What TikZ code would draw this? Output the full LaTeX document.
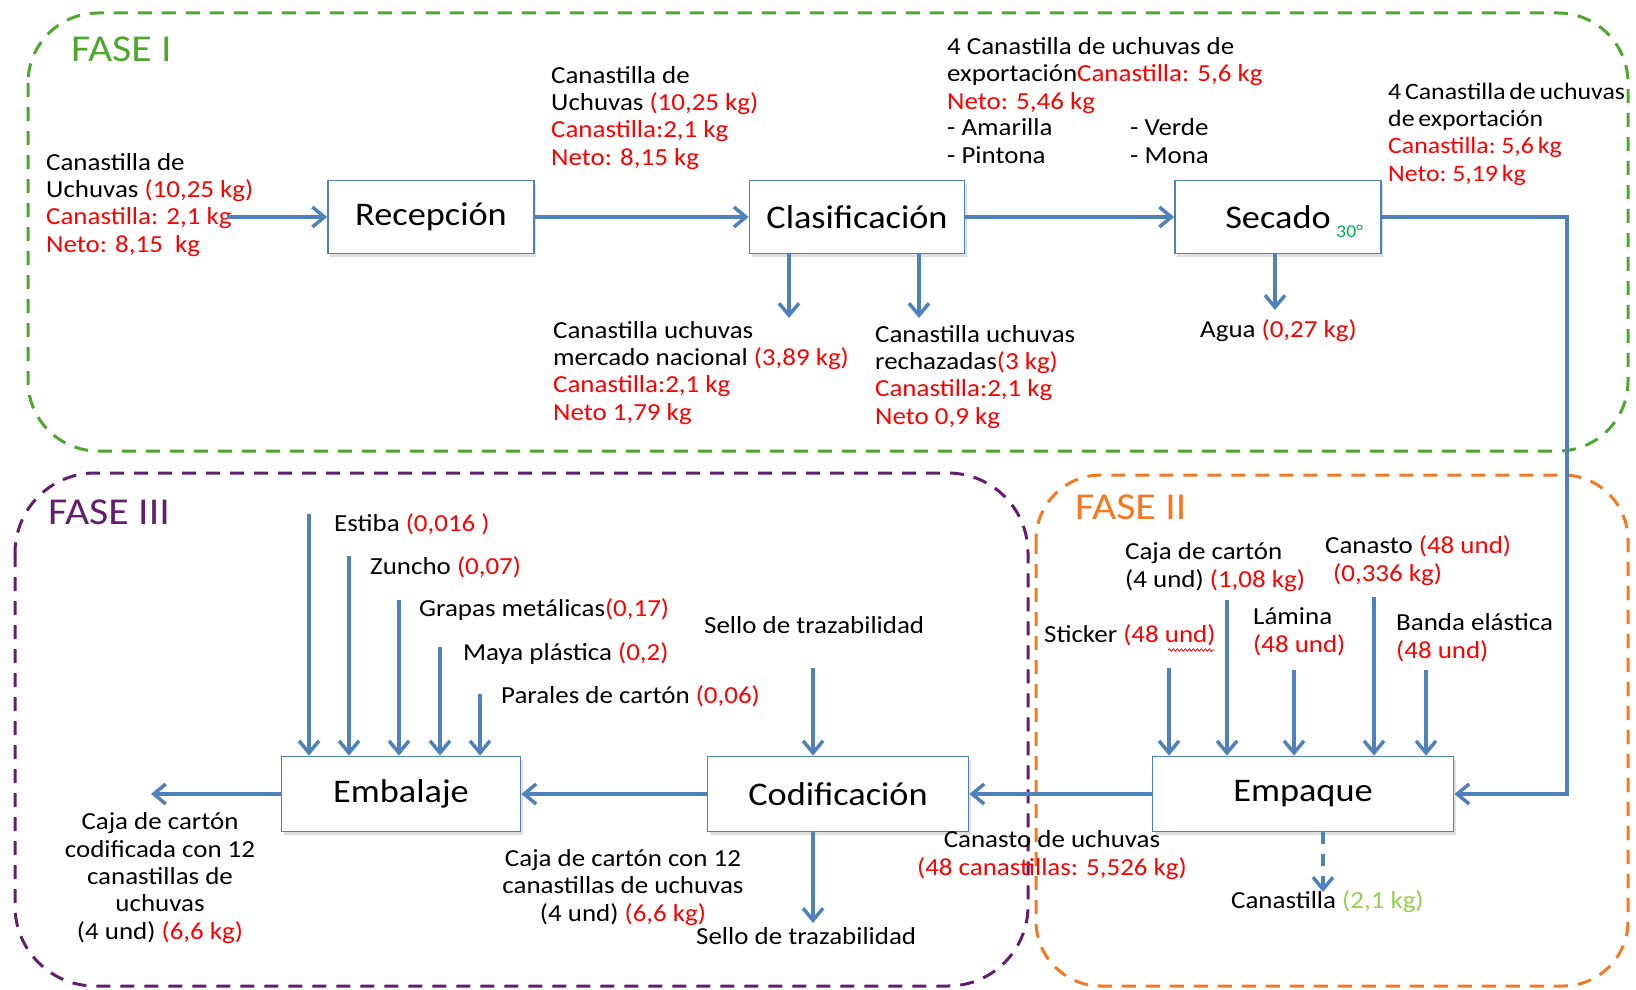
\documentclass[tikz,border=0pt]{standalone}
\usepackage{fontspec}
\setmainfont{Carlito}[FakeStretch=1.1]
\usetikzlibrary{arrows.meta,shadows,decorations.pathmorphing}
\definecolor{flowblue}{RGB}{79,129,189}
\definecolor{txtred}{RGB}{255,0,0}
\definecolor{faseigreen}{RGB}{78,167,46}
\definecolor{faseiiorange}{RGB}{245,121,32}
\definecolor{faseiiipurple}{RGB}{100,30,110}
\definecolor{lightgreen}{RGB}{146,208,80}
\definecolor{tempgreen}{RGB}{0,176,80}
\newcommand{\rd}[1]{\textcolor{txtred}{#1}}
\newcommand{\tightsp}{\spaceskip=0.16em\relax}
\begin{document}
\begin{tikzpicture}[x=1pt, y=-1pt,
    proc/.style = {draw=flowblue, line width=1.8pt, fill=white, minimum height=73pt,
                   font=\fontsize{33}{38}\selectfont,
                   drop shadow={opacity=0.25, shadow xshift=2pt, shadow yshift=-3pt}},
    note/.style = {font=\fontsize{24.5}{27.3}\selectfont, inner sep=0pt, anchor=base west, align=left},
    notec/.style = {note, anchor=base, align=center},
    fasebox/.style = {rounded corners=70pt, line width=3pt, dash pattern=on 14pt off 10pt},
    fasename/.style = {font=\fontsize{38}{42}\selectfont, inner sep=0pt, anchor=base west},
    flow/.style = {flowblue, line width=3.5pt, -{Straight Barb[length=12pt, width=20pt]}}]
    \useasboundingbox (0,0) rectangle (1636,990);

    % fases
    \draw[fasebox, faseigreen] (28,13) rectangle (1628,451);
    \draw[fasebox, faseiiipurple, rounded corners=80pt] (15,473) rectangle (1028,986);
    \draw[fasebox, faseiiorange, rounded corners=65pt] (1036,475) rectangle (1628,986);
    \node[fasename, faseigreen] (f1) at (71,62) {FASE I};
    \node[fasename, faseiiipurple] (f3) at (48,524) {FASE III};
    \node[fasename, faseiiorange] (f2) at (1075,519) {FASE II};

    % procesos
    \node[proc, minimum width=206pt] (rec) at (431,217) {Recepción};
    \node[proc, minimum width=215pt] (clas) at (857,217) {Clasificación};
    \node[proc, minimum width=206pt] (sec) at (1278,217) {Secado};
    \node[font=\fontsize{18}{20}\selectfont, text=tempgreen, inner sep=0pt, anchor=base west] (temp) at (1336,237) {30°};
    \node[proc, minimum width=239pt, minimum height=75pt] (emb) at (401,794) {Embalaje};
    \node[proc, minimum width=261pt, minimum height=75pt] (cod) at (838,794) {Codificación};
    \node[proc, minimum width=301pt, minimum height=75pt] (emp) at (1303,794) {Empaque};

    % textos fase I
    \node[note] (entrada) at (46,252) {Canastilla de\\Uchuvas \rd{(10,25 kg)}\\\rd{Canastilla: 2,1 kg}\\\rd{Neto: 8,15~~kg}};
    \node[note] (recsal) at (551,165) {Canastilla de\\Uchuvas \rd{(10,25 kg)}\\\rd{Canastilla:2,1 kg}\\\rd{Neto: 8,15 kg}};
    \node[note] (clasal) at (947,109) {4 Canastilla de uchuvas de\\exportación\rd{Canastilla: 5,6 kg}\\\rd{Neto: 5,46 kg}};
    \node[note] (col1) at (947,163) {- Amarilla\\- Pintona};
    \node[note] (col2) at (1130,163) {- Verde\\- Mona};
    \node[note, font=\fontsize{23.5}{27.3}\selectfont\tightsp] (secsal) at (1388,181) {4 Canastilla de uchuvas\\de exportación\\\rd{Canastilla: 5,6 kg}\\\rd{Neto: 5,19 kg}};
    \node[note] (naclbl) at (553,420) {Canastilla uchuvas\\mercado nacional\hspace{6pt}\rd{(3,89 kg)}\\\rd{Canastilla:2,1 kg}\\\rd{Neto 1,79 kg}};
    \node[note] (rechlbl) at (875,424) {Canastilla uchuvas\\rechazadas\rd{(3 kg)}\\\rd{Canastilla:2,1 kg}\\\rd{Neto 0,9 kg}};
    \node[note] (agualbl) at (1200,337) {Agua \rd{(0,27 kg)}};

    % textos fase III
    \node[note] (estiba) at (334,531) {Estiba \rd{(0,016 )}};
    \node[note] (zuncho) at (370,574) {Zuncho \rd{(0,07)}};
    \node[note] (grapas) at (419,616) {Grapas metálicas\rd{(0,17)}};
    \node[note] (maya) at (463,660) {Maya plástica \rd{(0,2)}};
    \node[note] (parales) at (501,703) {Parales de cartón \rd{(0,06)}};
    \node[note] (sello1) at (704,633) {Sello de trazabilidad};
    \node[note] (sello2) at (696,944) {Sello de trazabilidad};
    \node[notec] (emblbl) at (160,939) {Caja de cartón\\codificada con 12\\canastillas de\\uchuvas\\(4 und) \rd{(6,6 kg)}};
    \node[notec] (codlbl) at (623,921) {Caja de cartón con 12\\canastillas de uchuvas\\(4 und) \rd{(6,6 kg)}};

    % textos fase II
    \node[notec] (emplbl) at (1052,875) {Canasto de uchuvas\\\rd{(48 canastillas: 5,526 kg)}};
    \node[note] (sticker) at (1044,642) {Sticker \rd{(48 und)}};
    \node[note] (caja) at (1125,587) {Caja de cartón\\(4 und) \rd{(1,08 kg)}};
    \node[note] (canasto) at (1325,581) {Canasto \rd{(48 und)}\\\hspace*{8pt}\rd{(0,336 kg)}};
    \node[note] (lamina) at (1253,652) {Lámina\\\rd{(48 und)}};
    \node[note] (banda) at (1396,658) {Banda elástica\\\rd{(48 und)}};
    \node[note] (canastilla) at (1231,908) {Canastilla \textcolor{lightgreen}{(2,1 kg)}};
    \draw[txtred, line width=0.8pt, decorate, decoration={snake, amplitude=1.2pt, segment length=4pt}] (1168,650) -- (1214,650);

    % puntos libres
    \coordinate (in1) at (227,217);
    \coordinate (nac) at (789,318);
    \coordinate (rech) at (919,318);
    \coordinate (agua) at (1275,310);
    \coordinate (bend) at (1567,500);
    \coordinate (out1) at (151,794);
    \coordinate (st) at (813,668);
    \coordinate (sb) at (813,923);
    \coordinate (emi1) at (309,514);
    \coordinate (emi2) at (349,556);
    \coordinate (emi3) at (399,600);
    \coordinate (emi4) at (440,647);
    \coordinate (emi5) at (480,694);
    \coordinate (epi1) at (1169,668);
    \coordinate (epi2) at (1227,600);
    \coordinate (epi3) at (1294,670);
    \coordinate (epi4) at (1374,597);
    \coordinate (epi5) at (1426,670);
    \coordinate (cst) at (1323,892);

    % flujo
    \draw[flow] (in1) -- (rec.west);
    \draw[flow] (rec.east) -- (clas.west);
    \draw[flow] (clas.east) -- (sec.west);
    \draw[flow] (nac |- clas.south) -- (nac);
    \draw[flow] (rech |- clas.south) -- (rech);
    \draw[flow] (agua |- sec.south) -- (agua);
    \draw[flow] (sec.east) -| (bend) |- (emp.east);
    \draw[flow] (emp.west) -- (cod.east);
    \draw[flow] (cod.west) -- (emb.east);
    \draw[flow] (emb.west) -- (out1);
    \draw[flow] (st) -- (st |- cod.north);
    \draw[flow] (sb |- cod.south) -- (sb);
    \draw[flow] (emi1) -- (emi1 |- emb.north);
    \draw[flow] (emi2) -- (emi2 |- emb.north);
    \draw[flow] (emi3) -- (emi3 |- emb.north);
    \draw[flow] (emi4) -- (emi4 |- emb.north);
    \draw[flow] (emi5) -- (emi5 |- emb.north);
    \draw[flow] (epi1) -- (epi1 |- emp.north);
    \draw[flow] (epi2) -- (epi2 |- emp.north);
    \draw[flow] (epi3) -- (epi3 |- emp.north);
    \draw[flow] (epi4) -- (epi4 |- emp.north);
    \draw[flow] (epi5) -- (epi5 |- emp.north);
    \draw[flow, dash pattern=on 12pt off 10pt] (cst |- emp.south) -- (cst);
\end{tikzpicture}
\end{document}
